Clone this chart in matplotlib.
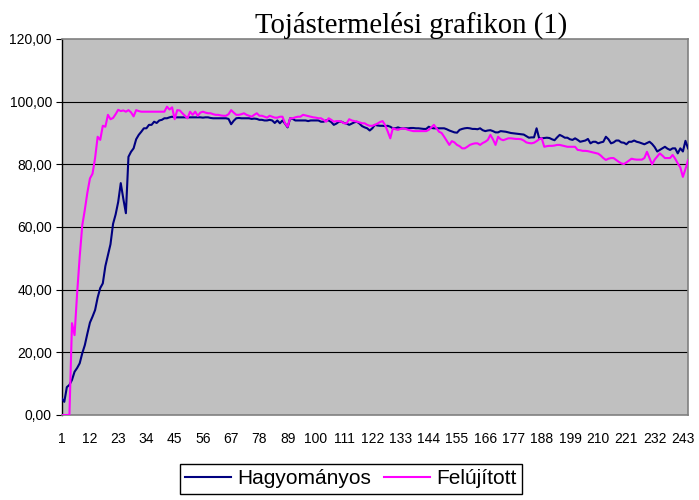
import matplotlib
matplotlib.use("Agg")
import matplotlib.pyplot as plt
from matplotlib.ticker import FuncFormatter

# Napi tojástermelés (%) - 245 nap
hagyomanyos = [
    5.3, 4.2, 8.9, 9.6, 11.2, 13.8, 15.0, 16.5, 19.7, 22.3,
    26.0, 29.5, 31.4, 33.5, 37.5, 40.5, 42.0, 47.5, 51.0, 54.5,
    61.0, 64.0, 68.0, 74.0, 69.0, 64.4, 82.4, 84.0, 85.1, 88.0,
    89.4, 90.4, 91.5, 91.5, 92.6, 92.6, 93.6, 93.2, 94.0, 94.2,
    94.7, 94.7, 95.0, 95.2, 95.0, 95.0, 95.0, 95.0, 95.0, 95.0,
    95.0, 95.0, 95.0, 95.0, 95.0, 94.9, 95.0, 95.0, 94.8, 94.7,
    94.7, 94.7, 94.7, 94.7, 94.7, 94.5, 92.8, 93.9, 94.7, 94.8,
    94.7, 94.7, 94.7, 94.7, 94.5, 94.6, 94.5, 94.2, 94.2, 94.0,
    94.0, 94.2, 94.0, 93.2, 94.0, 93.1, 94.0, 93.0, 91.8, 94.7,
    94.5, 94.0, 94.0, 94.0, 94.0, 94.0, 93.8, 94.0, 94.0, 94.0,
    94.0, 93.6, 93.6, 94.0, 94.0, 93.5, 92.6, 93.0, 93.6, 93.6,
    93.2, 93.0, 92.6, 93.0, 93.4, 93.6, 93.0, 92.2, 91.8, 91.5,
    90.8, 91.5, 92.6, 92.4, 92.3, 92.3, 92.2, 92.3, 92.0, 91.5,
    91.5, 91.8, 91.5, 91.5, 91.5, 91.5, 91.6, 91.6, 91.5, 91.5,
    91.4, 91.3, 91.3, 92.0, 91.6, 91.5, 91.5, 91.5, 91.5, 91.5,
    91.2, 90.8, 90.5, 90.2, 90.1, 91.0, 91.3, 91.5, 91.6, 91.5,
    91.3, 91.3, 91.2, 91.5, 90.9, 90.6, 90.8, 90.9, 90.6, 90.2,
    90.2, 90.6, 90.5, 90.4, 90.2, 90.0, 89.9, 89.8, 89.7, 89.6,
    89.5, 89.0, 88.5, 88.6, 88.6, 91.5, 88.3, 88.3, 88.4, 88.5,
    88.4, 88.0, 87.7, 88.6, 89.4, 89.0, 88.5, 88.5, 88.0, 87.8,
    88.3, 87.8, 87.2, 87.4, 87.6, 88.1, 86.7, 87.2, 87.2, 86.7,
    87.0, 87.2, 88.8, 88.0, 86.7, 87.0, 87.6, 87.6, 87.0, 86.9,
    86.4, 87.2, 87.2, 87.6, 87.2, 87.0, 86.7, 86.4, 86.8, 87.2,
    86.5, 85.5, 84.1, 84.6, 85.1, 85.6, 85.0, 84.6, 85.1, 85.1,
    83.5, 85.1, 84.1, 87.5, 85.1,
]

felujitott = [
    0.0, 0.0, 0.0, 0.0, 29.3, 25.5, 38.8, 50.5, 60.5, 65.5,
    71.0, 75.5, 77.0, 82.0, 88.8, 87.8, 92.3, 92.0, 95.8, 94.4,
    94.8, 96.0, 97.4, 97.0, 97.2, 96.8, 97.3, 96.6, 95.3, 97.3,
    97.0, 96.8, 96.8, 96.8, 96.8, 96.8, 96.8, 96.8, 96.8, 96.8,
    96.8, 98.4, 97.5, 98.2, 94.4, 97.3, 97.2, 96.3, 95.5, 94.7,
    96.8, 95.8, 96.8, 95.5, 96.5, 96.8, 96.5, 96.3, 96.3, 96.0,
    95.8, 95.8, 95.6, 95.5, 95.5, 96.0, 97.3, 96.5, 95.8, 95.8,
    96.0, 96.3, 95.8, 95.5, 95.2, 95.8, 96.3, 95.5, 95.5, 95.2,
    94.9, 95.5, 95.2, 94.9, 94.9, 95.2, 95.2, 93.1, 92.0, 94.7,
    94.7, 95.0, 95.2, 95.2, 95.8, 95.6, 95.4, 95.2, 95.0, 94.9,
    94.7, 94.7, 94.2, 93.6, 94.7, 94.2, 93.6, 93.8, 93.8, 93.6,
    93.1, 93.1, 94.4, 94.0, 93.8, 93.6, 93.4, 93.1, 93.1, 92.6,
    92.3, 92.3, 92.6, 93.0, 93.5, 93.8, 92.5, 90.5, 88.3, 91.5,
    91.2, 91.0, 91.3, 91.5, 91.3, 91.0, 90.8, 90.6, 90.6, 90.6,
    90.6, 90.6, 90.6, 91.0, 91.8, 92.6, 91.5, 90.4, 90.0, 88.8,
    87.5, 86.2, 87.4, 87.0, 86.2, 85.8, 85.1, 85.1, 85.6, 86.2,
    86.5, 86.7, 86.7, 86.2, 86.8, 87.2, 87.8, 89.4, 88.0, 86.2,
    88.8, 88.0, 87.7, 88.0, 88.3, 88.3, 88.2, 88.1, 88.1, 88.0,
    87.6, 87.0, 86.8, 86.7, 86.9, 87.4, 88.0, 88.3, 85.6, 85.8,
    85.9, 85.9, 86.0, 86.2, 86.2, 86.0, 85.8, 85.6, 85.6, 85.6,
    85.6, 84.6, 84.5, 84.3, 84.3, 84.2, 84.0, 83.8, 83.6, 83.4,
    82.8, 82.0, 81.4, 81.8, 82.0, 82.0, 81.4, 80.8, 80.3, 80.1,
    80.6, 81.2, 81.8, 81.6, 81.5, 81.5, 81.5, 82.0, 84.0, 82.0,
    80.0, 81.5, 82.5, 83.5, 82.8, 82.0, 82.0, 82.0, 83.0, 81.8,
    80.3, 79.0, 76.0, 78.5, 81.3,
]

napok = list(range(1, len(hagyomanyos) + 1))
x_cimkek = list(range(1, len(hagyomanyos) + 1, 11))
y_ertekek = [0, 20, 40, 60, 80, 100, 120]

fig = plt.figure(figsize=(6.99, 5.0), dpi=100, facecolor='white')
ax = fig.add_axes([0.0883, 0.17, 0.8960, 0.752])
ax.set_facecolor('#C0C0C0')

for y in y_ertekek[1:-1]:
    ax.axhline(y, color='black', linewidth=0.8, zorder=1)

ax.plot(napok, hagyomanyos, color='#000080', linewidth=1.5, label='Hagyományos', zorder=3)
ax.plot(napok, felujitott, color='#FF00FF', linewidth=1.5, label='Felújított', zorder=3)

ax.set_xlim(1, len(napok))
ax.set_ylim(0, 120)
ax.set_yticks(y_ertekek)
ax.yaxis.set_major_formatter(FuncFormatter(lambda v, p: f"{v:.2f}".replace('.', ',')))
ax.set_xticks(x_cimkek)
ax.set_xticklabels([str(v) for v in x_cimkek])

ax.tick_params(axis='y', direction='out', length=4, width=0.8, pad=3, labelsize=10, colors='black')
ax.tick_params(axis='x', length=0, pad=12, labelsize=10)
for lbl in ax.get_xticklabels() + ax.get_yticklabels():
    lbl.set_fontfamily('Liberation Sans')

for side in ['top', 'right', 'bottom']:
    ax.spines[side].set_color('#808080')
    ax.spines[side].set_linewidth(1.2)
ax.spines['left'].set_color('black')
ax.spines['left'].set_linewidth(1.0)

fig.text(0.588, 0.934, 'Tojástermelési grafikon (1)', ha='center', va='baseline',
         fontsize=20.7, family='Liberation Serif')

leg = fig.legend(loc='center', bbox_to_anchor=(0.502, 0.042), ncol=2,
                 prop={'family': 'Liberation Sans', 'size': 15},
                 handlelength=2.2, handletextpad=0.3, columnspacing=0.6,
                 borderpad=0.25, fancybox=False, framealpha=1)
leg.get_frame().set_edgecolor('black')
leg.get_frame().set_linewidth(1.0)

fig.savefig('out.png', dpi=100)
